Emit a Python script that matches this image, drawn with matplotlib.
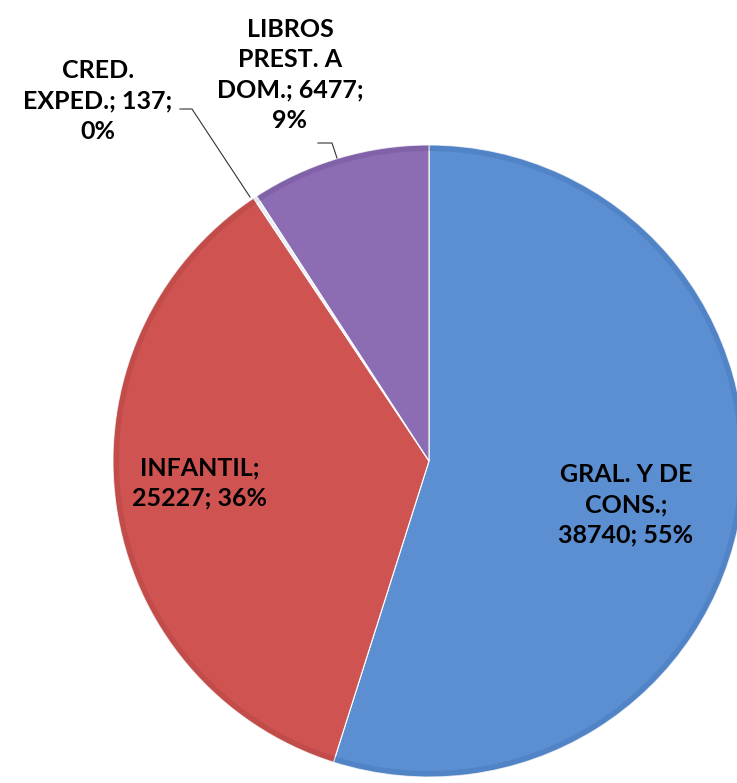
import textwrap

import matplotlib
matplotlib.use('Agg')
import matplotlib.pyplot as plt

categorias = ['GRAL. Y DE CONS.', 'INFANTIL', 'CRED. EXPED.', 'LIBROS PREST. A DOM.']
valores = [38740, 25227, 137, 6477]
colores = ['#5B8FD2', '#CF5451', '#E8EEF6', '#8C6DB4']
anchos = [10, 12, 12, 12]  # ancho de linea de cada etiqueta

W, H = 737, 783
CX, CY, R = 429, 461, 316  # pixeles, y desde arriba

fig = plt.figure(figsize=(W / 100, H / 100), dpi=100)
ax = fig.add_axes([0, 0, 1, 1])

ax.pie(valores, colors=colores, startangle=90, counterclock=False,
       center=(CX, H - CY), radius=R, frame=True,
       wedgeprops=dict(edgecolor='white', linewidth=0.8))
# borde biselado (un poco mas oscuro)
ax.pie(valores, colors=['#2F5F9E', '#93302D', '#C0C8D0', '#5A3F80'], startangle=90,
       counterclock=False, center=(CX, H - CY), radius=R, frame=True,
       wedgeprops=dict(width=6, alpha=0.22, linewidth=0))
ax.set_xlim(0, W)
ax.set_ylim(0, H)
ax.set_aspect('equal')
ax.axis('off')

total = sum(valores)
textos = [textwrap.fill(f'{c}; {v}; {round(v / total * 100)}%', w)
          for c, v, w in zip(categorias, valores, anchos)]

pos = [(626, 505), (200, 483), (98, 101), (290, 75)]
for t, (x, y) in zip(textos, pos):
    ax.text(x, H - y, t, ha='center', va='center', fontsize=18, fontweight='bold',
            family='Lato', color='black', linespacing=1.38)

# lineas guia
ax.plot([180, 192, 250], [H - 109, H - 109, H - 197], color='#333333', lw=0.8)
ax.plot([318, 332, 337], [H - 143, H - 143, H - 158], color='#333333', lw=0.8)

fig.savefig('out.png', dpi=100)
